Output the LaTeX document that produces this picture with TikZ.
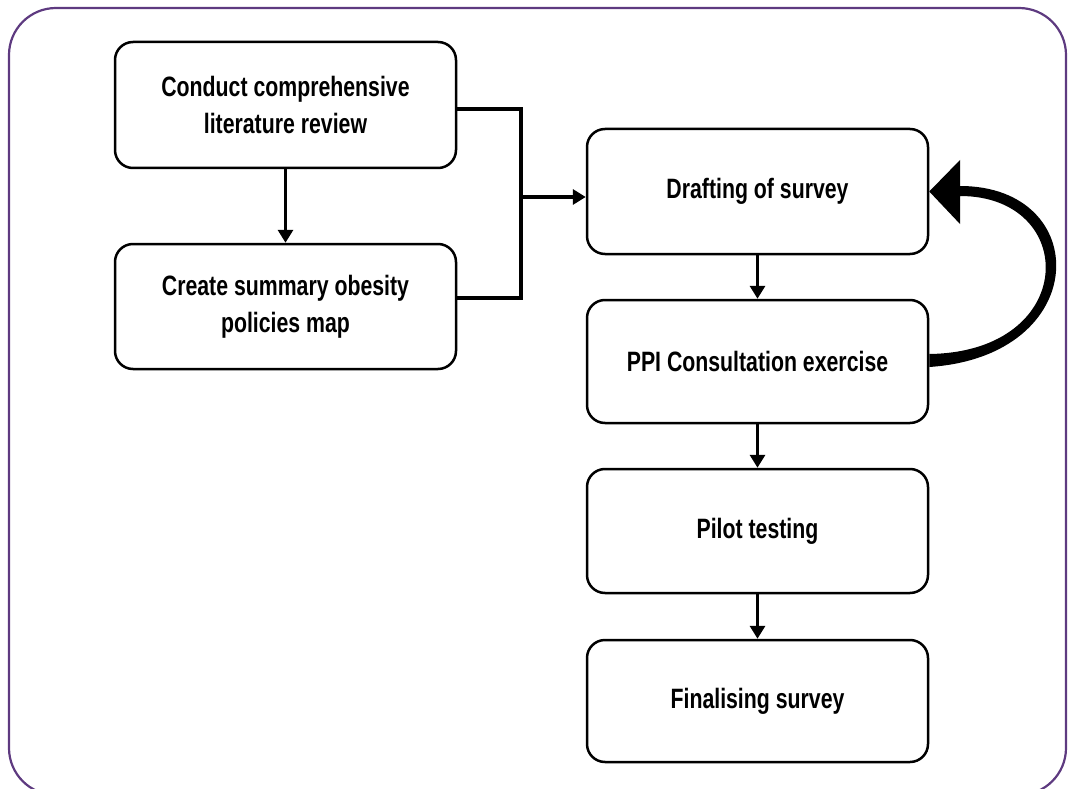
\documentclass[tikz,border=0pt]{standalone}
\usepackage{fontspec}
\setmainfont{Liberation Sans}[FakeStretch=0.76]
\usetikzlibrary{arrows.meta}
\definecolor{framepurple}{RGB}{94,58,128}
\tikzset{
  stepbox/.style={draw=black, line width=2.5pt, rounded corners=18pt, minimum width=341pt, align=center, inner sep=0pt,
    font=\fontsize{28}{37}\selectfont\bfseries, text=black},
  conn/.style={draw=black, line width=3.5pt},
  arr/.style={conn, -{Triangle[length=13pt,width=15pt]}},
}
\begin{document}
\begin{tikzpicture}[x=1pt,y=-1pt]
\useasboundingbox (0,0) rectangle (1074,789);
\begin{scope}
\clip (0,0) rectangle (1074,789);
\draw[framepurple, line width=2.2pt, rounded corners=47pt] (9,8) rectangle (1066,795);
\end{scope}
\node[stepbox, minimum height=126pt] (b1) at (285.5,105) {Conduct comprehensive\\literature review};
\node[stepbox, minimum height=125pt] (b2) at (285.5,306.5) {Create summary obesity\\policies map};
\node[stepbox, minimum height=125pt] (draft) at (757.5,191.5) {Drafting of survey};
\node[stepbox, minimum height=123pt] (ppi) at (757.5,361.5) {PPI Consultation exercise};
\node[stepbox, minimum height=124pt] (pilot) at (757.5,531) {Pilot testing};
\node[stepbox, minimum height=122pt] (final) at (757.5,701) {Finalising survey};
\coordinate (j) at (521,197);
\draw[arr] (b1) -- (b2);
\draw[conn] ([yshift=-4pt]b1.east) -| (j) |- ([yshift=8.5pt]b2.east);
\draw[arr] (j) -- (j -| draft.west);
\draw[arr] (draft) -- (ppi);
\draw[arr] (ppi) -- (pilot);
\draw[arr] (pilot) -- (final);
% tapered curved feedback arrow from PPI back to Drafting
\fill[black] ([yshift=-5.5pt]ppi.east) .. controls (1093,356) and (1093,186) .. (960,186)
  -- (960,160) -- (draft.east) -- (960,224) -- (960,196)
  .. controls (1079,196) and (1079,352) .. ([yshift=7.5pt]ppi.east) -- cycle;
\end{tikzpicture}
\end{document}
